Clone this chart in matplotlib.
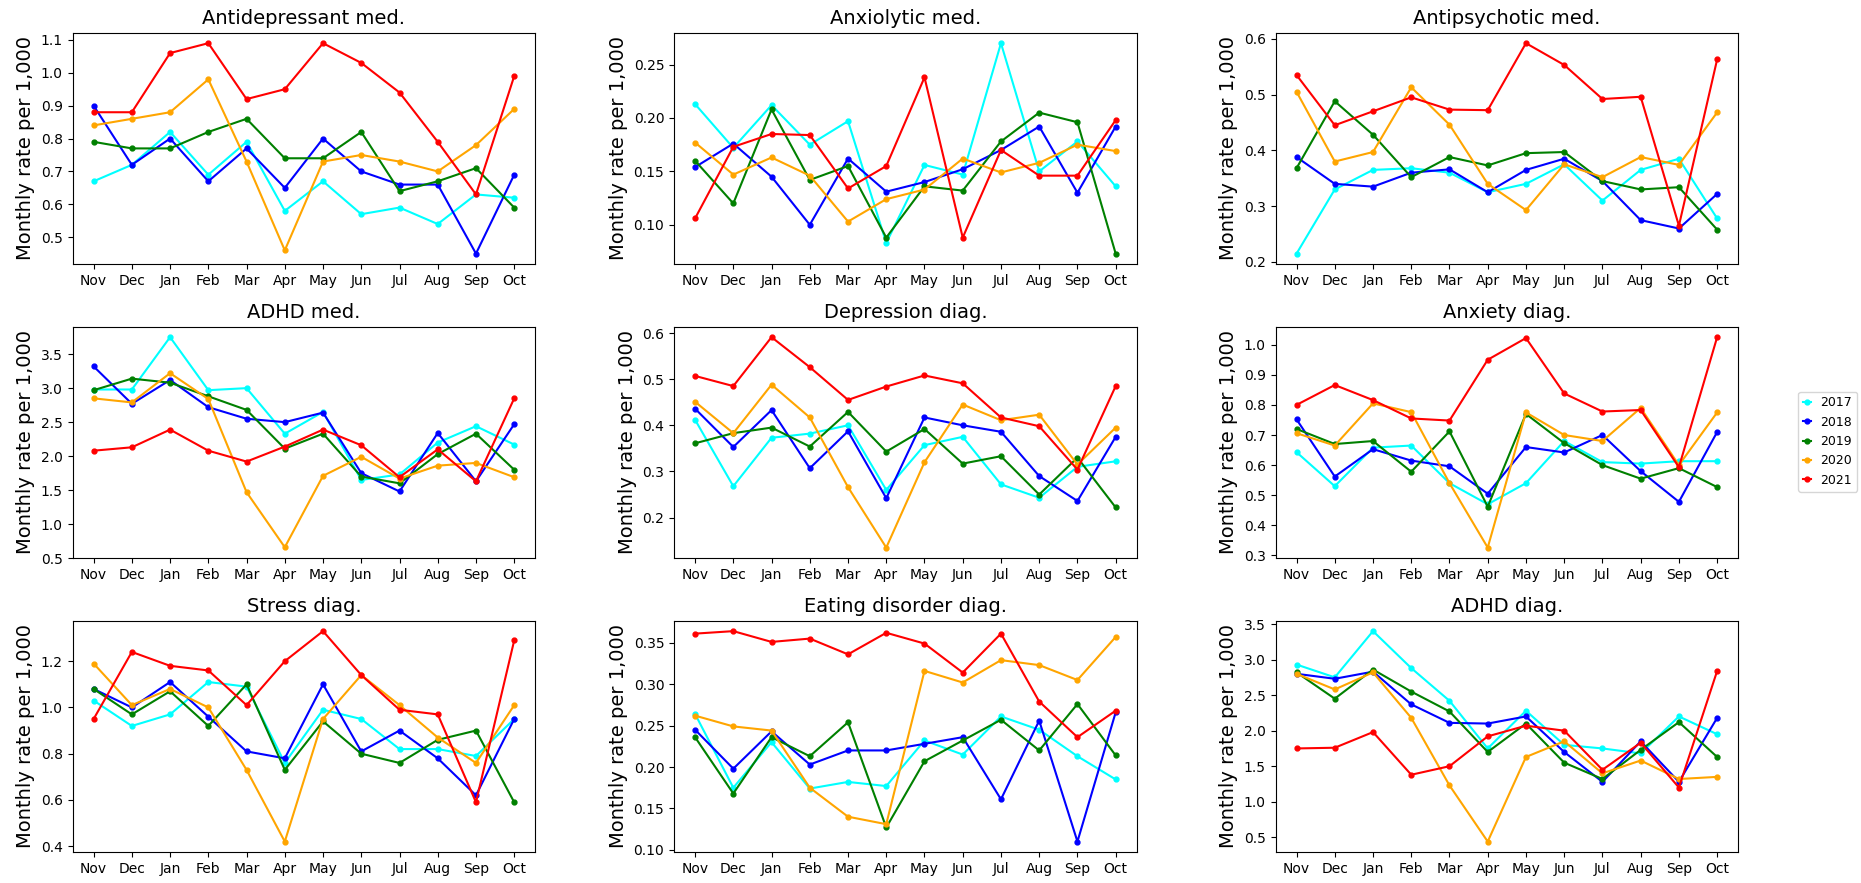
import matplotlib
matplotlib.use("Agg")
import matplotlib.pyplot as plt

months = ["Nov", "Dec", "Jan", "Feb", "Mar", "Apr", "May", "Jun", "Jul", "Aug", "Sep", "Oct"]
years = ["2017", "2018", "2019", "2020", "2021"]
colors = ["cyan", "blue", "green", "orange", "red"]
titles = ["Antidepressant med.", "Anxiolytic med.", "Antipsychotic med.",
          "ADHD med.", "Depression diag.", "Anxiety diag.",
          "Stress diag.", "Eating disorder diag.", "ADHD diag."]

antidepressant = [
    [.67, .72, .82, .69, .79, .58, .67, .57, .59, .54, .63, .62],
    [.90, .72, .80, .67, .77, .65, .80, .70, .66, .66, .45, .69],
    [.79, .77, .77, .82, .86, .74, .74, .82, .64, .67, .71, .59],
    [.84, .86, .88, .98, .73, .46, .73, .75, .73, .70, .78, .89],
    [.88, .88, 1.06, 1.09, .92, .95, 1.09, 1.03, .94, .79, .63, .99],
]
anxiolytic = [
    [.213, .172, .212, .175, .197, .083, .156, .147, .270, .150, .178, .136],
    [.154, .176, .145, .100, .162, .131, .140, .152, .170, .192, .130, .192],
    [.160, .120, .208, .142, .155, .088, .136, .132, .178, .205, .196, .073],
    [.177, .147, .163, .146, .103, .124, .133, .162, .149, .158, .175, .169],
    [.106, .173, .185, .184, .134, .155, .238, .088, .170, .146, .146, .198],
]
antipsychotic = [
    [.215, .33, .365, .368, .36, .325, .34, .375, .31, .365, .385, .278],
    [.388, .34, .335, .36, .366, .325, .365, .385, .345, .275, .26, .322],
    [.368, .488, .428, .352, .388, .373, .395, .397, .345, .33, .334, .258],
    [.505, .38, .397, .513, .446, .34, .293, .375, .352, .388, .374, .468],
    [.535, .445, .47, .495, .473, .472, .592, .553, .492, .496, .265, .563],
]
adhd_med = [
    [2.98, 2.98, 3.75, 2.97, 3.00, 2.33, 2.65, 1.65, 1.73, 2.20, 2.44, 2.17],
    [3.32, 2.77, 3.12, 2.72, 2.55, 2.50, 2.64, 1.75, 1.48, 2.34, 1.63, 2.47],
    [2.97, 3.14, 3.08, 2.88, 2.68, 2.11, 2.33, 1.70, 1.60, 2.03, 2.33, 1.80],
    [2.85, 2.79, 3.22, 2.84, 1.47, 0.66, 1.71, 1.99, 1.67, 1.86, 1.90, 1.69],
    [2.08, 2.13, 2.39, 2.08, 1.92, 2.14, 2.39, 2.16, 1.69, 2.10, 1.63, 2.85],
]
depression = [
    [.412, .268, .373, .382, .40, .26, .357, .375, .272, .243, .31, .322],
    [.436, .353, .433, .307, .387, .242, .417, .400, .386, .290, .236, .375],
    [.361, .383, .395, .354, .429, .343, .392, .317, .333, .250, .330, .222],
    [.451, .383, .488, .417, .266, .135, .320, .445, .411, .423, .315, .395],
    [.507, .485, .591, .526, .455, .484, .508, .491, .417, .398, .304, .485],
]
anxiety = [
    [.643, .530, .658, .665, .540, .470, .540, .680, .610, .605, .613, .613],
    [.752, .562, .653, .615, .596, .505, .660, .642, .700, .580, .478, .710],
    [.720, .670, .680, .578, .712, .462, .770, .673, .600, .555, .590, .527],
    [.706, .665, .805, .776, .540, .326, .775, .700, .680, .790, .600, .775],
    [.800, .866, .816, .755, .748, .950, 1.022, .838, .778, .783, .593, 1.025],
]
stress = [
    [1.03, .92, .97, 1.11, 1.09, .76, .99, .95, .82, .82, .79, .95],
    [1.08, 1.00, 1.11, .96, .81, .78, 1.10, .81, .90, .78, .62, .95],
    [1.08, .97, 1.07, .92, 1.10, .73, .94, .80, .76, .86, .90, .59],
    [1.19, 1.01, 1.08, 1.00, .73, .42, .95, 1.14, 1.01, .87, .76, 1.01],
    [.95, 1.24, 1.18, 1.16, 1.01, 1.20, 1.33, 1.14, .99, .97, .59, 1.29],
]
eating = [
    [.264, .175, .230, .174, .182, .177, .232, .215, .261, .245, .213, .185],
    [.245, .198, .243, .203, .220, .220, .228, .236, .161, .256, .110, .266],
    [.236, .168, .236, .213, .254, .127, .207, .232, .257, .220, .276, .214],
    [.262, .249, .244, .175, .140, .131, .316, .302, .329, .323, .305, .357],
    [.361, .364, .351, .355, .336, .362, .349, .314, .361, .279, .236, .268],
]
adhd_diag = [
    [2.93, 2.75, 3.40, 2.88, 2.42, 1.75, 2.28, 1.80, 1.75, 1.68, 2.20, 1.95],
    [2.80, 2.73, 2.83, 2.37, 2.11, 2.10, 2.20, 1.70, 1.28, 1.85, 1.28, 2.18],
    [2.82, 2.45, 2.86, 2.55, 2.27, 1.70, 2.10, 1.55, 1.32, 1.73, 2.12, 1.63],
    [2.80, 2.58, 2.82, 2.18, 1.23, 0.44, 1.63, 1.85, 1.40, 1.58, 1.32, 1.35],
    [1.75, 1.76, 1.98, 1.38, 1.50, 1.92, 2.07, 2.00, 1.45, 1.83, 1.20, 2.84],
]
panels = [antidepressant, anxiolytic, antipsychotic, adhd_med, depression,
          anxiety, stress, eating, adhd_diag]

fig, axes = plt.subplots(3, 3, figsize=(18.61, 8.83), dpi=100)
fig.subplots_adjust(left=0.039, right=0.934, top=0.963, bottom=0.035,
                    wspace=0.30, hspace=0.27)

for ax, title, data in zip(axes.flat, titles, panels):
    for yr, col, vals in zip(years, colors, data):
        ax.plot(months, vals, "-o", color=col, markersize=3.5, lw=1.5, label=yr)
    ax.set_title(title, fontsize=14)
    ax.set_ylabel("Monthly rate per 1,000", fontsize=14)
    ax.tick_params(labelsize=10)
axes[1, 0].set_ylim(0.5, None)

h, l = axes[0, 0].get_legend_handles_labels()
fig.legend(h, l, loc="center right", bbox_to_anchor=(0.998, 0.5), fontsize=9,
           handlelength=0.6, handletextpad=0.8, borderaxespad=0)
fig.savefig("out.png")
